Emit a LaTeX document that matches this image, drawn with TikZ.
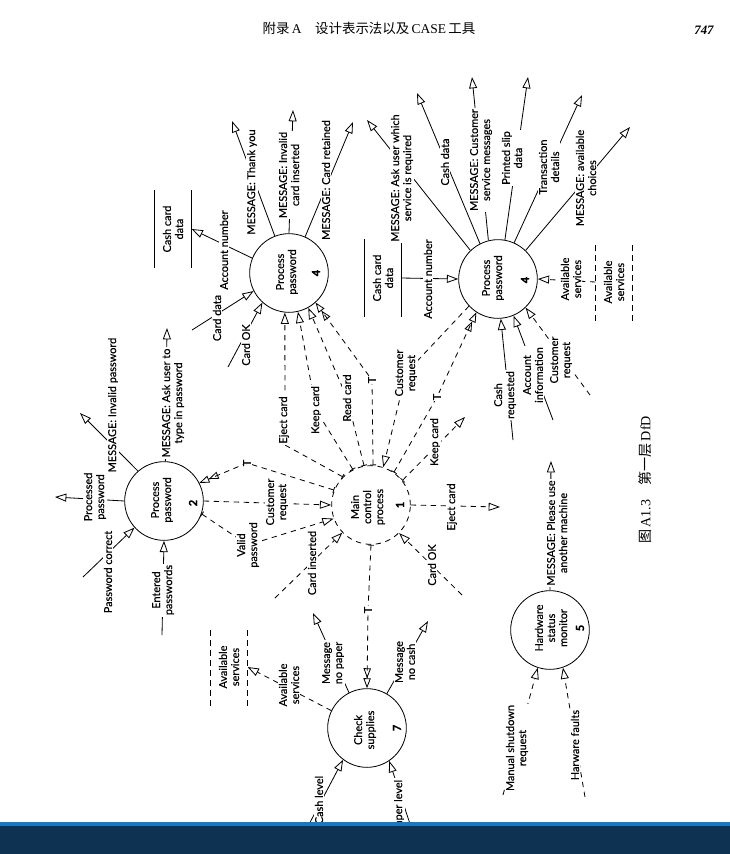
\documentclass[tikz,border=0pt]{standalone}
\usepackage{fontspec}
\setmainfont{Liberation Serif}
\newfontfamily\dfdfont[FakeBold=0.4]{Lato}
\newfontfamily\cjk{Noto Sans CJK SC}
\usetikzlibrary{arrows.meta}
\definecolor{barnavy}{RGB}{13,50,82}
\definecolor{barblue}{RGB}{28,118,196}
\newcommand{\dfdsize}{\dfdfont\fontsize{9.3}{10.3}\selectfont}
\tikzset{
    dfdproc/.style={draw, circle, minimum size=2.36cm, inner sep=0pt, line width=0.7pt},
    dfdtext/.style={rotate=90, align=center, font=\dfdsize, inner sep=1pt},
    dfdnum/.style={rotate=90, font=\dfdfont\fontsize{9.5}{10}\selectfont\bfseries, inner sep=1pt},
    dfdlbl/.style={rotate=90, align=center, fill=white, font=\dfdsize, inner sep=1.2pt},
    dfdtee/.style={rotate=90, fill=white, font=\dfdsize, inner sep=0.3pt},
    dfdstore/.style={rotate=90, align=center, font=\dfdsize, minimum width=2.3cm,
        minimum height=1.1cm, inner sep=0pt},
    dfdline/.style={line width=0.7pt},
    dfdflow/.style={dfdline, -{Triangle[open, length=3.4mm, width=2.4mm]}},
    dfdctl/.style={dfdline, dash pattern=on 1.6mm off 1.4mm},
    dfdctlflow/.style={dfdctl, -{Triangle[open, length=3.4mm, width=2.4mm]}},
    dfdctlsrc/.style={dfdctl, {Bar[width=1.8mm]}-{Triangle[open, length=3.4mm, width=2.4mm]}},
    dfdctltwin/.style={dfdctl, {Bar[width=1.8mm]}-{Triangle[open, length=3mm, width=2.2mm] Triangle[open, length=3mm, width=2.2mm]}}
}

\begin{document}
\begin{tikzpicture}[x=0.03cm, y=-0.03cm]
\useasboundingbox (0,0) rectangle (730,854);

% page head and caption
\node[font=\fontsize{11.5}{12}\selectfont] (pghead) at (369,28)
    {{\cjk 附录}\,A\quad{\cjk 设计表示法以及}\,CASE\,{\cjk 工具}};
\node[font=\fontsize{11}{12}\selectfont\bfseries\itshape] (pgnum) at (704,30) {747};
\node[rotate=90, font=\fontsize{12}{13}\selectfont] (figcap) at (645,480)
    {{\cjk 图}\,A1.3\quad{\cjk 第一层}\,DfD};

% processes
\node[dfdproc] (ppup) at (289,273) {};
\node[dfdproc] (ppright) at (498,279) {};
\node[dfdproc] (pptwo) at (164,501) {};
\node[dfdproc, dfdctl] (mainctl) at (371,505) {};
\node[dfdproc] (checksup) at (367,728) {};
\node[dfdproc] (hwmon) at (550,630) {};

\node[dfdtext] (ppuptxt) at (287,272) {Process\\password};
\node[dfdnum] (ppupnum) at (316,273) {4};
\node[dfdtext] (pprighttxt) at (493,278) {Process\\password};
\node[dfdnum] (pprightnum) at (525,280) {4};
\node[dfdtext] (pptwotxt) at (162,500) {Process\\password};
\node[dfdnum] (pptwonum) at (193,503) {2};
\node[dfdtext] (mainctltxt) at (368,507) {Main\\control\\process};
\node[dfdnum] (mainctlnum) at (400,505) {1};
\node[dfdtext] (checksuptxt) at (365,730) {Check\\supplies};
\node[dfdnum] (checksupnum) at (397,728) {7};
\node[dfdtext] (hwmontxt) at (551,628) {Hardware\\status\\monitor};
\node[dfdnum] (hwmonnum) at (580,628) {5};

% data stores
\node[dfdstore] (storeA) at (173,229) {Cash card\\data};
\node[dfdstore] (storeB) at (383,278) {Cash card\\data};
\node[dfdstore] (storeC) at (229,667) {Available\\services};
\node[dfdstore] (storeD) at (614,282) {Available\\services};
\draw[dfdline] (storeA.north west) -- (storeA.north east)
    (storeA.south west) -- (storeA.south east);
\draw[dfdline] (storeB.north west) -- (storeB.north east)
    (storeB.south west) -- (storeB.south east);
\draw[dfdctl] (storeC.north west) -- (storeC.north east)
    (storeC.south west) -- (storeC.south east);
\draw[dfdctl] (storeD.north west) -- (storeD.north east)
    (storeD.south west) -- (storeD.south east);

% free ends and bends
\coordinate (tytip) at (232,121);
\coordinate (ictip) at (293,110);
\coordinate (crtip) at (353,122);
\coordinate (cdsrc) at (192,330);
\coordinate (coksrc) at (228,367);
\coordinate (ejbend) at (285,445);
\coordinate (kcbend) at (316,410);
\coordinate (rcbend) at (347,398);
\coordinate (tbendA) at (372,380);
\coordinate (crqbend) at (406,373);
\coordinate (tbendB) at (437,397);
\coordinate (kctip) at (465,417);
\coordinate (ejtip) at (500,507);
\coordinate (tbendC) at (247,463);
\coordinate (vpbend) at (248,545);
\coordinate (cinssrc) at (275,598);
\coordinate (cokmsrc) at (462,595);
\coordinate (tbendD) at (368,610);
\coordinate (invptip) at (80,413);
\coordinate (asktip) at (167,328);
\coordinate (proctip) at (55,497);
\coordinate (pcsrc) at (83,577);
\coordinate (entsrc) at (162,635);
\coordinate (nptip) at (313,613);
\coordinate (nctip) at (428,621);
\coordinate (clsrc) at (306,830);
\coordinate (plsrc) at (412,830);
\coordinate (mssrc) at (503,795);
\coordinate (hfsrc) at (585,797);
\coordinate (putip) at (551,461);
\coordinate (awtip) at (367,120);
\coordinate (cashtip) at (417,93);
\coordinate (csmtip) at (472,77);
\coordinate (pstip) at (528,77);
\coordinate (trtip) at (582,95);
\coordinate (avtip) at (630,127);
\coordinate (crqsrc) at (513,440);
\coordinate (aisrc) at (553,420);
\coordinate (custsrc) at (590,395);

% process 4, top
\draw[dfdflow] (ppup.111) -- (tytip);
\draw[dfdflow] (ppup.90) -- (ictip);
\draw[dfdflow] (ppup.66) -- (crtip);
\draw[dfdflow] (ppup.158) -- (storeA.south);
\draw[dfdflow] (cdsrc) -- (ppup.207);
\draw[dfdflow] (coksrc) -- (ppup.228);
\draw[dfdctlsrc] (mainctl.135) -- (ejbend) -- (ppup.264);
\draw[dfdctlsrc] (mainctl.117) -- (kcbend) -- (ppup.283);
\draw[dfdctlsrc] (mainctl.100) -- (rcbend) -- (ppup.299);
\draw[dfdctltwin] (mainctl.87) -- (tbendA) -- (ppup.312);

% process 4, right
\draw[dfdflow] (ppright.134) -- (awtip);
\draw[dfdflow] (ppright.117) -- (cashtip);
\draw[dfdflow] (ppright.104) -- (csmtip);
\draw[dfdflow] (ppright.80) -- (pstip);
\draw[dfdflow] (ppright.66) -- (trtip);
\draw[dfdflow] (ppright.46) -- (avtip);
\draw[dfdflow] (storeB.south) -- (ppright.180);
\draw[dfdctlflow] (ppright.223) -- (crqbend) -- (mainctl.72);
\draw[dfdctltwin] (mainctl.55) -- (tbendB) -- (ppright.237);
\draw[dfdflow] (crqsrc) -- (ppright.274);
\draw[dfdflow] (aisrc) -- (ppright.293);
\draw[dfdctlflow] (custsrc) -- (ppright.314);
\draw[dfdctlflow] (storeD.north) -- (ppright.0);

% main control
\draw[dfdctlsrc] (mainctl.38) -- (kctip);
\draw[dfdctlflow] (mainctl.0) -- (ejtip);
\draw[dfdctlflow] (cinssrc) -- (mainctl.224);
\draw[dfdctlflow] (cokmsrc) -- (mainctl.315);
\draw[dfdctltwin] (mainctl.270) -- (tbendD) -- (checksup.90);

% process 2
\draw[dfdctltwin] (mainctl.158) -- (tbendC) -- (pptwo.27);
\draw[dfdctlflow] (pptwo.0) -- (mainctl.180);
\draw[dfdctlsrc] (pptwo.341) -- (vpbend) -- (mainctl.200);
\draw[dfdflow] (pptwo.131) -- (invptip);
\draw[dfdflow] (pptwo.88) -- (asktip);
\draw[dfdflow] (pptwo.180) -- (proctip);
\draw[dfdflow] (pcsrc) -- (pptwo.222);
\draw[dfdflow] (entsrc) -- (pptwo.270);

% check supplies, hardware monitor
\draw[dfdflow] (checksup.117) -- (nptip);
\draw[dfdflow] (checksup.60) -- (nctip);
\draw[dfdctlflow] (checksup.154) -- (storeC.south);
\draw[dfdflow] (clsrc) -- (checksup.233);
\draw[dfdflow] (plsrc) -- (checksup.304);
\draw[dfdflow] (hwmon.90) -- (putip);
\draw[dfdctlflow] (mssrc) -- (hwmon.252);
\draw[dfdctlflow] (hfsrc) -- (hwmon.289);

% flow labels
\node[dfdlbl] (tylbl) at (252,182) {MESSAGE: Thank you};
\node[dfdlbl] (iclbl) at (289,175) {MESSAGE: Invalid\\card inserted};
\node[dfdlbl] (crlbl) at (326,180) {MESSAGE: Card retained};
\node[dfdlbl] (anlblA) at (224,250) {Account number};
\node[dfdlbl] (cdlbl) at (217,318) {Card data};
\node[dfdlbl] (coklbl) at (246,345) {Card OK};
\node[dfdlbl] (ejlblA) at (284,420) {Eject card};
\node[dfdlbl] (kclblA) at (316,410) {Keep card};
\node[dfdlbl] (rclbl) at (347,398) {Read card};
\node[dfdtee] (teeA) at (tbendA) {T};
\node[dfdlbl] (crqlblA) at (406,373) {Customer\\request};
\node[dfdtee] (teeB) at (tbendB) {T};
\node[dfdlbl] (kclblB) at (435,442) {Keep card};
\node[dfdlbl] (ejlblB) at (452,507) {Eject card};
\node[dfdtee] (teeC) at (tbendC) {T};
\node[dfdlbl] (custlblB) at (277,502) {Customer\\request};
\node[dfdlbl] (vplbl) at (248,545) {Valid\\password};
\node[dfdlbl] (cinslbl) at (312,563) {Card inserted};
\node[dfdlbl] (cokmlbl) at (432,565) {Card OK};
\node[dfdtee] (teeD) at (tbendD) {T};
\node[dfdlbl] (invplbl) at (113,405) {MESSAGE: Invalid password};
\node[dfdlbl] (asklbl) at (173,403) {MESSAGE: Ask user to\\type in password};
\node[dfdlbl] (proclbl) at (95,497) {Processed\\password};
\node[dfdlbl] (pclbl) at (108,572) {Password correct};
\node[dfdlbl] (entlbl) at (163,590) {Entered\\passwords};
\node[dfdlbl] (avlblA) at (289,685) {Available\\services};
\node[dfdlbl] (nplbl) at (333,663) {Message\\no paper};
\node[dfdlbl] (nclbl) at (405,662) {Message\\no cash};
\node[dfdlbl] (cllbl) at (319,800) {Cash level};
\node[dfdlbl] (pllbl) at (399,806) {Paper level};
\node[dfdlbl] (mslbl) at (517,748) {Manual shutdown\\request};
\node[dfdlbl] (hflbl) at (575,745) {Harware faults};
\node[dfdlbl] (pulbl) at (557,533) {MESSAGE: Please use\\another machine};
\node[dfdlbl] (awlbl) at (402,178) {MESSAGE: Ask user which\\service is required};
\node[dfdlbl] (cashlbl) at (445,162) {Cash data};
\node[dfdlbl] (csmlbl) at (481,160) {MESSAGE: Customer\\service messages};
\node[dfdlbl] (pslbl) at (512,158) {Printed slip\\data};
\node[dfdlbl] (trlbl) at (549,167) {Transaction\\details};
\node[dfdlbl] (avclbl) at (586,178) {MESSAGE: available\\choices};
\node[dfdlbl] (anlblB) at (428,279) {Account number};
\node[dfdlbl] (crqlbl) at (505,395) {Cash\\requested};
\node[dfdlbl] (ailbl) at (533,375) {Account\\information};
\node[dfdlbl] (custlblC) at (561,360) {Customer\\request};
\node[dfdlbl] (avlblB) at (571,279) {Available\\services};

% page foot bar
\fill[barnavy] (0,822) rectangle (730,854);
\fill[barblue] (0,822) rectangle (730,825.5);
\end{tikzpicture}
\end{document}
